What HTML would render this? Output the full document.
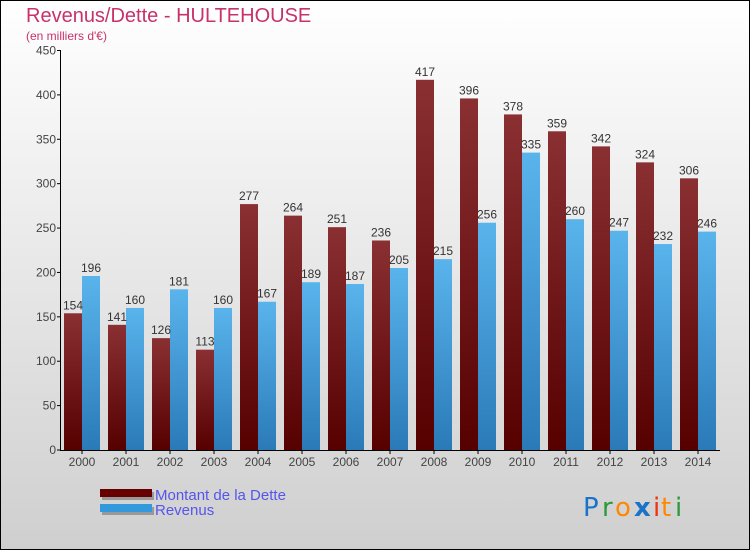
<!DOCTYPE html>
<html><head><meta charset="utf-8"><style>
body{margin:0}
#c{width:750px;height:550px;position:relative;overflow:hidden;font-family:"Liberation Sans",sans-serif}
</style></head><body>
<div id="c">
<svg id="s" width="750" height="550" xmlns="http://www.w3.org/2000/svg">
<defs>
<linearGradient id="bg" x1="0" y1="0" x2="0" y2="1"><stop offset="0" stop-color="#ffffff"/><stop offset="1" stop-color="#cfcfcf"/></linearGradient>
<linearGradient id="gd" x1="0" y1="0" x2="0" y2="1"><stop offset="0" stop-color="#8a3033"/><stop offset="1" stop-color="#560000"/></linearGradient>
<linearGradient id="gr" x1="0" y1="0" x2="0" y2="1"><stop offset="0" stop-color="#5ab4ec"/><stop offset="1" stop-color="#2a7ab8"/></linearGradient>
</defs>
<rect x="0.5" y="0.5" width="749" height="549" fill="url(#bg)" stroke="#000"/>
<text x="26" y="22" font-size="20" fill="#c8326a">Revenus/Dette - HULTEHOUSE</text>
<text x="26" y="40" font-size="12" fill="#c8326a">(en milliers d'€)</text>
<g id="plot"></g>
<g>
<rect x="102" y="492" width="52" height="8" fill="#999"/>
<rect x="100" y="489" width="52" height="8" fill="#660000"/>
<rect x="102" y="507" width="52" height="8" fill="#999"/>
<rect x="100" y="504" width="52" height="8" fill="#3399dd"/>
<text x="155" y="500" font-size="15" fill="#5555ee">Montant de la Dette</text>
<text x="155" y="515" font-size="15" fill="#5555ee">Revenus</text>
</g>
<g font-size="26" font-family="'DejaVu Sans',sans-serif">
<text x="583" y="516" fill="#1a73c8">P</text><text x="602" y="516" fill="#2a9a3a">r</text><text x="615" y="516" fill="#ff8800">o</text><text x="634" y="516" fill="#1a73c8" font-weight="bold">x</text><text x="653" y="516" fill="#ee3311">i</text><text x="661" y="516" fill="#ff8800">t</text><text x="675" y="516" fill="#2a9a3a">i</text>
</g>
</svg>
</div>
<script>
const years=["2000","2001","2002","2003","2004","2005","2006","2007","2008","2009","2010","2011","2012","2013","2014"];
const dette=[154,141,126,113,277,264,251,236,417,396,378,359,342,324,306];
const revenus=[196,160,181,160,167,189,187,205,215,256,335,260,247,232,246];
const ticks=[0,50,100,150,200,250,300,350,400,450];
const NS="http://www.w3.org/2000/svg";
const g=document.getElementById('plot');
const y0=450,ppu=399.5/450;
const Y=v=>y0-v*ppu;
const X=i=>82+i*44;
function mk(t,a){const e=document.createElementNS(NS,t);for(const k in a)e.setAttribute(k,a[k]);g.appendChild(e);return e;}
ticks.forEach(t=>{
 const l=mk('line',{x1:57,x2:61,y1:Y(t),y2:Y(t),stroke:'#000'});
 
 
 const tx=mk('text',{x:56,y:Y(t)+4,'font-size':12,fill:'#444','text-anchor':'end'});tx.textContent=t;
 
 
});
years.forEach((yr,i)=>{
 const b1=mk('rect',{x:X(i)-18,y:Y(dette[i]),width:18,height:dette[i]*ppu,fill:'url(#gd)'});
 
 
 const b2=mk('rect',{x:X(i),y:Y(revenus[i]),width:18,height:revenus[i]*ppu,fill:'url(#gr)'});
 
 
 const t1=mk('text',{x:X(i)-9,y:Y(dette[i])-4,'font-size':12,fill:'#333','text-anchor':'middle'});t1.textContent=dette[i];
 
 
 const t2=mk('text',{x:X(i)+9,y:Y(revenus[i])-4,'font-size':12,fill:'#333','text-anchor':'middle'});t2.textContent=revenus[i];
 
 
 const tk=mk('line',{x1:X(i),x2:X(i),y1:450,y2:454,stroke:'#000'});
 
 
 const xl=mk('text',{x:X(i),y:466,'font-size':12,fill:'#444','text-anchor':'middle'});xl.textContent=yr;
 
 
});
const ya=mk('line',{x1:60.5,x2:60.5,y1:50,y2:450.5,stroke:'#000'});


const xa=mk('line',{x1:60,x2:720,y1:450.5,y2:450.5,stroke:'#000'});


</script>
</body></html>
